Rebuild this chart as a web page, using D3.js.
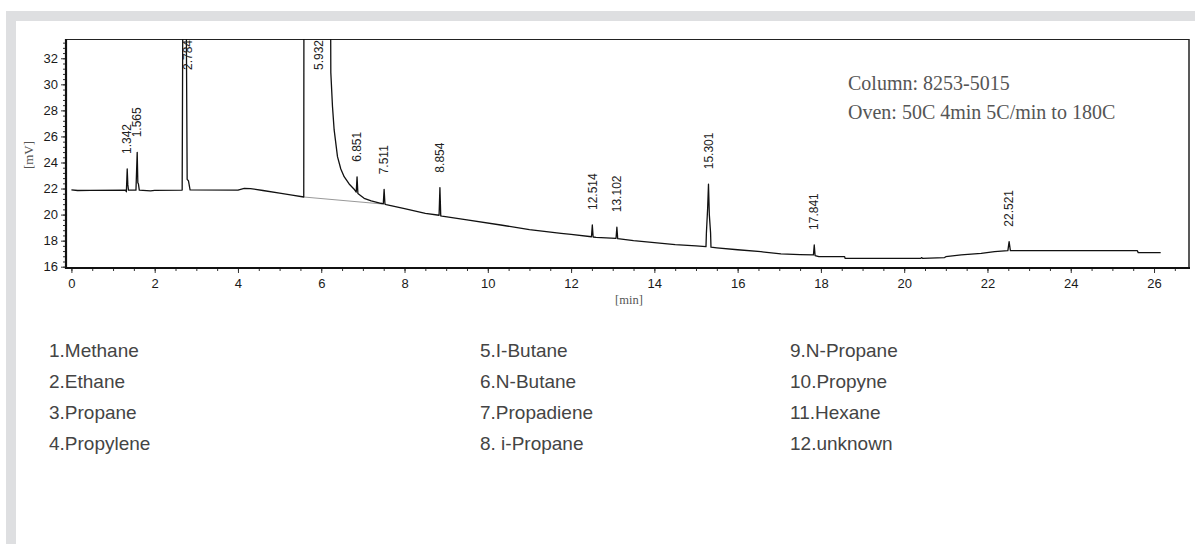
<!DOCTYPE html>
<html><head><meta charset="utf-8">
<script src="https://cdn.jsdelivr.net/npm/d3@7"></script>
<style>body{margin:0;background:#fff;}svg{display:block}</style>
</head><body><svg id="c" width="1195" height="544"></svg>
<script>
// ---- data ----
const retentionTime = [0.00,0.15,0.45,1.30,1.32,1.34,1.355,1.37,1.55,1.58,1.595,1.61,1.63,1.90,2.00,2.66,2.68,2.75,2.78,2.81,2.85,4.00,4.15,4.30,4.60,5.00,5.30,5.58,5.585,6.22,6.23,6.27,6.31,6.39,6.47,6.55,6.67,6.79,6.84,6.86,6.88,6.95,7.03,7.20,7.43,7.49,7.51,7.53,7.56,8.00,8.50,8.83,8.85,8.87,8.90,9.50,10.31,11.00,11.76,12.00,12.49,12.51,12.53,12.60,13.08,13.10,13.12,13.50,14.00,14.50,15.00,15.24,15.25,15.28,15.30,15.32,15.35,15.36,15.50,16.00,16.56,17.04,17.50,17.82,17.84,17.86,17.95,18.57,18.58,20.40,20.42,20.44,20.97,21.00,21.37,21.85,22.17,22.49,22.52,22.55,25.60,25.62,26.16];
const signal        = [21.90,21.85,21.86,21.88,21.75,23.50,22.30,21.88,21.88,24.78,22.45,22.35,21.88,21.82,21.86,21.88,40.0,40.0,22.70,22.60,21.90,21.88,22.02,22.00,21.85,21.65,21.50,21.35,40.0,40.0,30.90,28.30,26.50,24.45,23.50,22.91,22.35,21.95,21.72,22.90,21.62,21.45,21.25,21.05,20.87,20.83,21.94,20.80,20.76,20.45,20.10,19.95,22.07,19.90,19.88,19.60,19.20,18.85,18.56,18.48,18.30,19.20,18.28,18.25,18.18,19.03,18.15,18.00,17.85,17.70,17.60,17.54,18.60,20.50,22.33,20.00,18.60,17.50,17.45,17.30,17.15,16.98,16.92,16.90,17.67,16.85,16.77,16.77,16.64,16.64,16.70,16.64,16.70,16.77,16.90,17.03,17.15,17.23,17.92,17.23,17.23,17.08,17.08];
const integrationBaseT = [5.58, 7.45];
const integrationBaseV = [21.35, 20.82];
const peakLabels = ["1.342","1.565","2.784","5.932","6.851","7.511","8.854","12.514","13.102","15.301","17.841","22.521"];
const peakApex   = [23.50, 24.78, 40, 40, 22.90, 21.94, 22.07, 19.20, 19.03, 22.33, 17.67, 17.92];
const xTicks = [0,2,4,6,8,10,12,14,16,18,20,22,24,26];
const yTicks = [16,18,20,22,24,26,28,30,32];
const legendItems = ["1.Methane","2.Ethane","3.Propane","4.Propylene","5.I-Butane","6.N-Butane","7.Propadiene","8. i-Propane","9.N-Propane","10.Propyne","11.Hexane","12.unknown"];
const notes = ["Column: 8253-5015","Oven: 50C 4min 5C/min to 180C"];

// ---- layout ----
const svg = d3.select("#c");
const L = 66, R = 1189, T = 39, B = 268;
const x = d3.scaleLinear().domain([-0.13, 26.84]).range([L, R]);
const y = d3.scaleLinear().domain([15.9, 33.48]).range([B, T]);

// page frame (grey strips)
svg.append("rect").attr("x",6).attr("y",11).attr("width",1189).attr("height",10).attr("fill","#dedfe1");
svg.append("rect").attr("x",6).attr("y",11).attr("width",10).attr("height",533).attr("fill","#dedfe1");

// clip
svg.append("clipPath").attr("id","clip").append("rect").attr("x",L).attr("y",T).attr("width",R-L).attr("height",B-T);

// plot border
svg.append("line").attr("x1",L).attr("x2",R).attr("y1",T+0.5).attr("y2",T+0.5).attr("stroke","#222").attr("stroke-width",1);
svg.append("line").attr("x1",R).attr("x2",R).attr("y1",T).attr("y2",B).attr("stroke","#222").attr("stroke-width",1.5);

// x axis
const xMinor = d3.range(0, 27, 0.5);
const gx = svg.append("g").attr("transform",`translate(0,${B})`);
gx.call(d3.axisBottom(x).tickValues(xMinor).tickSize(3).tickFormat(""));
gx.append("g").call(d3.axisBottom(x).tickValues(xTicks).tickSize(5).tickPadding(6).tickFormat(d3.format("d")));
gx.selectAll(".domain").remove();
gx.selectAll("line").attr("stroke","#333");
gx.selectAll("text").attr("font-family","Liberation Sans, Arial, sans-serif").attr("font-size",13).attr("fill","#1a1a1a");
svg.append("line").attr("x1",L-1).attr("x2",R+1).attr("y1",B).attr("y2",B).attr("stroke","#111").attr("stroke-width",2.2);

// y axis
const yMinor = d3.range(16, 33.4, 0.4);
const gy = svg.append("g").attr("transform",`translate(${L},0)`);
gy.call(d3.axisLeft(y).tickValues(yMinor).tickSize(3).tickFormat(""));
gy.append("g").call(d3.axisLeft(y).tickValues(yTicks).tickSize(5).tickPadding(3).tickFormat(d3.format("d")));
gy.selectAll(".domain").remove();
gy.selectAll("line").attr("stroke","#333");
gy.selectAll("text").attr("font-family","Liberation Sans, Arial, sans-serif").attr("font-size",13).attr("fill","#1a1a1a");
svg.append("line").attr("x1",L).attr("x2",L).attr("y1",T).attr("y2",B+1).attr("stroke","#111").attr("stroke-width",2.2);

// axis titles
svg.append("text").attr("transform",`translate(33,155) rotate(-90)`).attr("text-anchor","middle")
  .attr("font-family","Liberation Serif, serif").attr("font-size",13).attr("fill","#555").text("[mV]");
svg.append("text").attr("x",629).attr("y",304).attr("text-anchor","middle")
  .attr("font-family","Liberation Serif, serif").attr("font-size",12.5).attr("fill","#555").text("[min]");

// integration baseline
svg.append("line").attr("clip-path","url(#clip)")
  .attr("x1",x(integrationBaseT[0])).attr("y1",y(integrationBaseV[0]))
  .attr("x2",x(integrationBaseT[1])).attr("y2",y(integrationBaseV[1]))
  .attr("stroke","#999").attr("stroke-width",1);

// trace
const pts = retentionTime.map((t,i)=>[t, signal[i]]);
svg.append("path").attr("clip-path","url(#clip)").datum(pts)
  .attr("d", d3.line().x(d=>x(d[0])).y(d=>y(d[1])))
  .attr("fill","none").attr("stroke","#111").attr("stroke-width",1.3).attr("stroke-linejoin","round");

// peak labels
peakLabels.forEach((lab,i)=>{
  const px = x(+lab);
  const t = svg.append("text").attr("font-family","Liberation Sans, Arial, sans-serif").attr("font-size",12)
    .attr("fill","#222").attr("dy","0.35em").text(lab);
  const len = t.node().getComputedTextLength();
  const yb = Math.max(y(peakApex[i]) - 15, T + len + 1);
  t.attr("transform",`translate(${px},${yb}) rotate(-90)`);
});

// notes
notes.forEach((n,i)=>{
  svg.append("text").attr("x",848).attr("y",90+i*29).attr("font-family","Liberation Serif, Times New Roman, serif")
    .attr("font-size",20).attr("fill","#555").text(n);
});

// legend (column-major, 4 rows)
const colX = [49, 480, 790];
legendItems.forEach((s,i)=>{
  const c = Math.floor(i/4), r = i%4;
  svg.append("text").attr("x",colX[c]).attr("y",357+r*31)
    .attr("font-family","Liberation Sans, Arial, sans-serif").attr("font-size",19).attr("fill","#444").text(s);
});
</script></body></html>
